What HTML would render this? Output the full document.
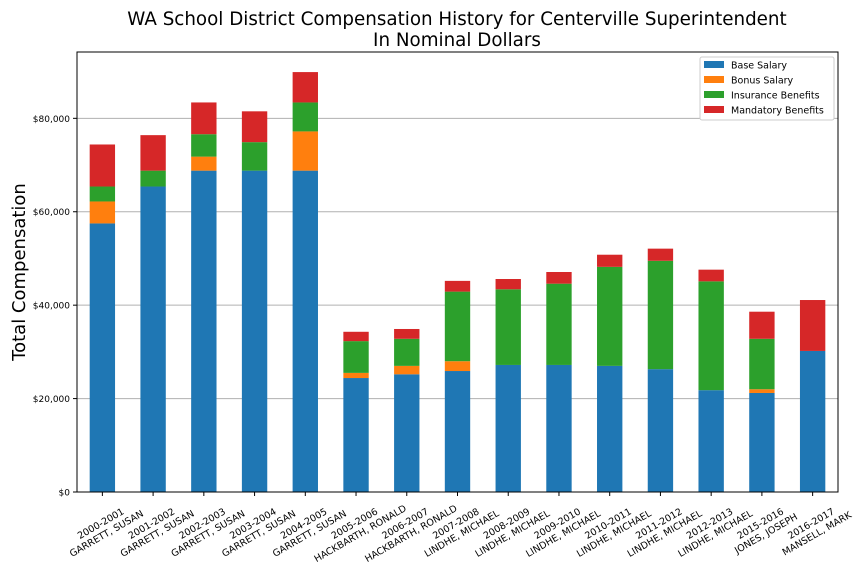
<!DOCTYPE html>
<html><head><meta charset="utf-8">
<style>body{margin:0;background:#fff}svg{display:block;font-family:"DejaVu Sans","Liberation Sans",sans-serif}</style>
</head><body>
<svg id="chart" width="864" height="576" xmlns="http://www.w3.org/2000/svg"></svg>
<script>
const years = ["2000-2001","2001-2002","2002-2003","2003-2004","2004-2005","2005-2006","2006-2007","2007-2008","2008-2009","2009-2010","2010-2011","2011-2012","2012-2013","2015-2016","2016-2017"];
const names = ["GARRETT, SUSAN","GARRETT, SUSAN","GARRETT, SUSAN","GARRETT, SUSAN","GARRETT, SUSAN","HACKBARTH, RONALD","HACKBARTH, RONALD","LINDHE, MICHAEL","LINDHE, MICHAEL","LINDHE, MICHAEL","LINDHE, MICHAEL","LINDHE, MICHAEL","LINDHE, MICHAEL","JONES, JOSEPH","MANSELL, MARK"];
const baseSalary = [57500,65400,68800,68800,68800,24400,25200,25900,27200,27200,27000,26300,21800,21200,30200];
const bonusSalary = [4700,0,3000,0,8400,1100,1800,2100,0,0,0,0,0,800,0];
const insurance = [3200,3400,4800,6100,6200,6800,5800,14900,16200,17400,21200,23200,23300,10800,0];
const mandatory = [9000,7600,6800,6600,6500,2000,2100,2300,2200,2500,2600,2600,2500,5800,10900];
const yTicks = [0,20000,40000,60000,80000];
const yTickLabels = ["$0","$20,000","$40,000","$60,000","$80,000"];
const seriesNames = ["Base Salary","Bonus Salary","Insurance Benefits","Mandatory Benefits"];
const colors = ["#1f77b4","#ff7f0e","#2ca02c","#d62728"];

const svg = document.getElementById('chart');
const NS = "http://www.w3.org/2000/svg";
const L=77,R=838,T=52,B=492, yMax=94200;
const xs = i => L + (R-L)/years.length*(i+0.5);
const ys = v => B - v/yMax*(B-T);
function mk(tag, attrs, parent){const e=document.createElementNS(NS,tag);for(const k in attrs)e.setAttribute(k,attrs[k]);(parent||svg).appendChild(e);return e;}

yTicks.forEach((t,i)=>{
  if(t>0){const g=mk('line',{x1:L,x2:R,y1:ys(t),y2:ys(t),stroke:'#b0b0b0','stroke-width':1});
  
  }
  const tk=mk('line',{x1:L-4,x2:L,y1:ys(t),y2:ys(t),stroke:'#000'});
  
  
  const tl=mk('text',{x:L-7,y:ys(t)+3.5,'text-anchor':'end','font-size':9});
  tl.textContent=yTickLabels[i];
  
  
});

const series=[baseSalary,bonusSalary,insurance,mandatory];
const bw=(R-L)/years.length*0.5;
years.forEach((y,i)=>{
  let cum=0;
  series.forEach((s,k)=>{
    const v=s[i]; if(v<=0) return;
    const r=mk('rect',{x:xs(i)-bw/2,y:ys(cum+v),width:bw,height:ys(cum)-ys(cum+v),fill:colors[k]});
    
    
    cum+=v;
  });
  const tk=mk('line',{x1:xs(i),x2:xs(i),y1:B,y2:B+4,stroke:'#000'});
  
  
  const cx=xs(i)+1, cy=528;
  const tx=mk('text',{'text-anchor':'middle','font-size':9.5,transform:`rotate(-30 ${cx} ${cy})`});
  
  
  const a=mk('tspan',{x:cx,y:cy-2},tx); a.textContent=y;
  const b=mk('tspan',{x:cx,y:cy+9.5},tx); b.textContent=names[i];
});

const fr=mk('rect',{x:L,y:T,width:R-L,height:B-T,fill:'none',stroke:'#000','stroke-width':1});



const t1=mk('text',{x:457,y:25,'text-anchor':'middle','font-size':18.3});
t1.textContent='WA School District Compensation History for Centerville Superintendent';


const t2=mk('text',{x:457,y:46,'text-anchor':'middle','font-size':18.3});
t2.textContent='In Nominal Dollars';


const yl=mk('text',{x:25,y:272,'text-anchor':'middle','font-size':18,transform:'rotate(-90 25 272)'});
yl.textContent='Total Compensation';



const lg=mk('g',{});


mk('rect',{x:700,y:57,width:134,height:63,fill:'#fff',stroke:'#ccc',rx:2},lg);
seriesNames.forEach((n,k)=>{
  const yy=60+k*15;
  const sw=mk('rect',{x:704,y:yy+1,width:20,height:7,fill:colors[k]},lg);
  
  
  const lt=mk('text',{x:731,y:yy+8.5,'font-size':9.5},lg);
  lt.textContent=n;
  
  
});
</script>
</body></html>
